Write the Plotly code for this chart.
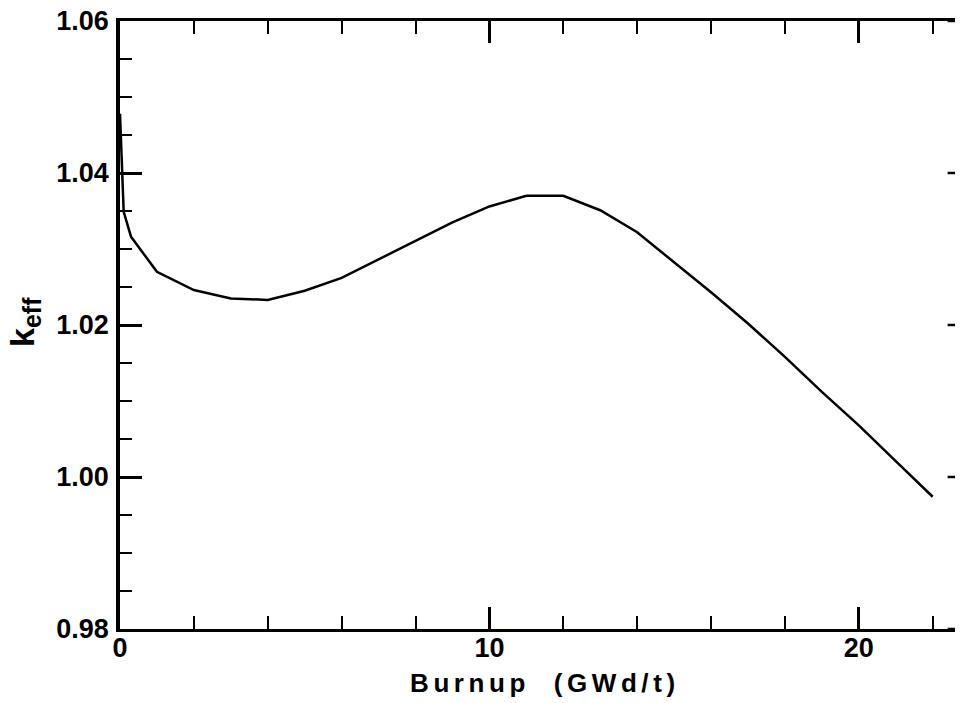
import plotly.graph_objects as go

burnup = [0, 0.1, 0.3, 1, 2, 3, 4, 5, 6, 7, 8, 9, 10, 11, 12, 13, 14, 15, 16, 17, 18, 19, 20, 21, 22]
keff = [1.0478, 1.0349, 1.0316, 1.0270, 1.0246, 1.0235, 1.0233, 1.0245, 1.0262, 1.0286, 1.0311,
        1.0335, 1.0356, 1.0370, 1.0370, 1.0351, 1.0322, 1.0283, 1.0243, 1.0202, 1.0158, 1.0112,
        1.0068, 1.0021, 0.9974]

x_ticks = [0, 10, 20]
x_ticklabels = ["0", "10", "20"]
y_ticks = [0.98, 1.00, 1.02, 1.04, 1.06]
y_ticklabels = ["0.98", "1.00", "1.02", "1.04", "1.06"]
y_minor = [0.985, 0.99, 0.995, 1.005, 1.01, 1.015, 1.025, 1.03, 1.035, 1.045, 1.05, 1.055]

# page body has an 8px margin, so the figure is sized to fit the 963x703 window
OFF = 8
W, H = 963 - OFF, 703 - OFF
L, T = 120 - OFF, 21 - OFF
R = 0
B = H - (629 - OFF)
px_per_x = 36.94
plot_w = W - L - R
plot_h = H - T - B
x_max = plot_w / px_per_x
frame_right = 23.0  # right frame of the original chart (beyond visible area)

fam = "Liberation Sans, Arial, sans-serif"
font = dict(family=fam, size=27, color="black", weight="bold")

fig = go.Figure()
fig.add_trace(go.Scatter(x=burnup, y=keff, mode="lines",
                         line=dict(color="black", width=2.5), showlegend=False))

fig.update_xaxes(range=[0, x_max], tickvals=x_ticks, ticktext=x_ticklabels,
                 ticks="inside", ticklen=22, tickwidth=2.5, tickcolor="black",
                 showline=True, linewidth=2.5, linecolor="black", mirror="ticks",
                 showgrid=False, zeroline=False, tickfont=font, ticklabelstandoff=-7,
                 ticklabeloverflow="allow",
                 minor=dict(dtick=2, tick0=0, ticks="inside", ticklen=13, tickwidth=2,
                            tickcolor="black", showgrid=False))
fig.update_yaxes(range=[0.98, 1.06], tickvals=y_ticks, ticktext=y_ticklabels,
                 ticks="inside", ticklen=22, tickwidth=2.5, tickcolor="black",
                 showline=True, linewidth=3.5, linecolor="black",
                 showgrid=False, zeroline=False, tickfont=font, ticklabelstandoff=2,
                 ticklabeloverflow="allow",
                 minor=dict(dtick=0.005, tick0=0.98, ticks="inside", ticklen=12, tickwidth=2,
                            tickcolor="black", showgrid=False))

# right-hand frame ticks (frame lies just past the visible page edge)
xr = (frame_right * px_per_x) / plot_w
shapes = []
for v in y_ticks:
    shapes.append(dict(type="line", xref="paper", yref="y", x0=xr - 22 / plot_w, x1=xr,
                       y0=v, y1=v, line=dict(color="black", width=2.5)))
for v in y_minor:
    shapes.append(dict(type="line", xref="paper", yref="y", x0=xr - 12 / plot_w, x1=xr,
                       y0=v, y1=v, line=dict(color="black", width=2)))
fig.update_layout(shapes=shapes)

fig.add_annotation(text='<span style="letter-spacing:4.6px">Burnup\u00a0\u00a0(GWd/t)</span>',
                   xref="paper", yref="paper",
                   x=(frame_right * px_per_x / 2) / plot_w, y=-(683 - 629) / plot_h,
                   xanchor="center", yanchor="middle", showarrow=False,
                   font=dict(family=fam, size=26, color="black", weight="bold"))
fig.add_annotation(text='k<sub><span style="font-size:25px">eff</span></sub>',
                   xref="paper", yref="paper",
                   x=(24 - 120) / plot_w, y=(629 - 322) / plot_h, textangle=-90,
                   xanchor="center", yanchor="middle", showarrow=False,
                   font=dict(family=fam, size=34, color="black", weight="bold"))

fig.update_layout(width=W, height=H, margin=dict(l=L, r=R, t=T, b=B, autoexpand=False),
                  paper_bgcolor="white", plot_bgcolor="white")

fig.write_html("out.html")
